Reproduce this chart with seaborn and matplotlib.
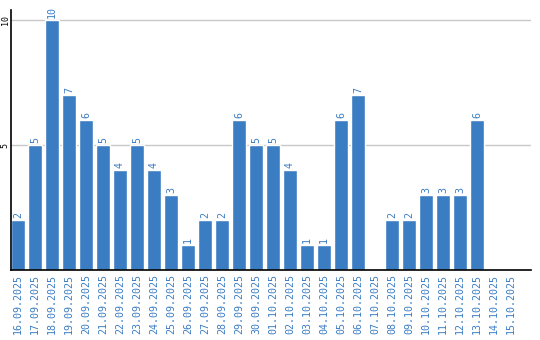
import matplotlib
matplotlib.use("Agg")
import matplotlib.pyplot as plt
import seaborn as sns
import pandas as pd

dates = ["16.09.2025", "17.09.2025", "18.09.2025", "19.09.2025", "20.09.2025",
         "21.09.2025", "22.09.2025", "23.09.2025", "24.09.2025", "25.09.2025",
         "26.09.2025", "27.09.2025", "28.09.2025", "29.09.2025", "30.09.2025",
         "01.10.2025", "02.10.2025", "03.10.2025", "04.10.2025", "05.10.2025",
         "06.10.2025", "07.10.2025", "08.10.2025", "09.10.2025", "10.10.2025",
         "11.10.2025", "12.10.2025", "13.10.2025", "14.10.2025", "15.10.2025"]
counts = [2, 5, 10, 7, 6, 5, 4, 5, 4, 3, 1, 2, 2, 6, 5, 5, 4, 1, 1, 6, 7, 0,
          2, 2, 3, 3, 3, 6, 0, 0]
yticks = [5, 10]

sns.set_theme(style="white")
plt.rcParams['font.family'] = ['DejaVu Sans Mono', 'DejaVu Sans']

BLUE = "#3b7dc3"
df = pd.DataFrame({"date": dates, "count": counts})

fig = plt.figure(figsize=(5.4, 3.4), dpi=100)
ax = fig.add_axes([11/540, 70/340, 520/540, 260/340])
sns.barplot(data=df, x="date", y="count", color=BLUE, saturation=1,
            width=0.82, ax=ax, zorder=3)

ax.set_xlim(-0.41, 30.18)
ax.set_ylim(0, 10.4)
ax.set_yticks(yticks)
ax.set_yticklabels([str(t) for t in yticks], rotation=90, va="center",
                   fontsize=6, color="black")
ax.tick_params(axis="y", length=0, pad=1)
ax.tick_params(axis="x", length=0, pad=3, labelrotation=90,
               labelsize=7.2, labelcolor=BLUE)
for lbl in ax.get_xticklabels():
    lbl.set_va("top")
    lbl.set_ha("center")
ax.grid(axis="y", color="#c8c8c8", linewidth=1, zorder=0)
ax.set_xlabel("")
ax.set_ylabel("")

for s in ["top", "right"]:
    ax.spines[s].set_visible(False)
for s in ["left", "bottom"]:
    ax.spines[s].set_color("black")
    ax.spines[s].set_linewidth(1.2)
    ax.spines[s].set_zorder(4)

for i, v in enumerate(counts):
    if v > 0:
        ax.text(i, v + 0.08, str(v), rotation=90, ha="center", va="bottom",
                fontsize=7.2, color=BLUE, zorder=5)

fig.savefig("out.png", dpi=100)
